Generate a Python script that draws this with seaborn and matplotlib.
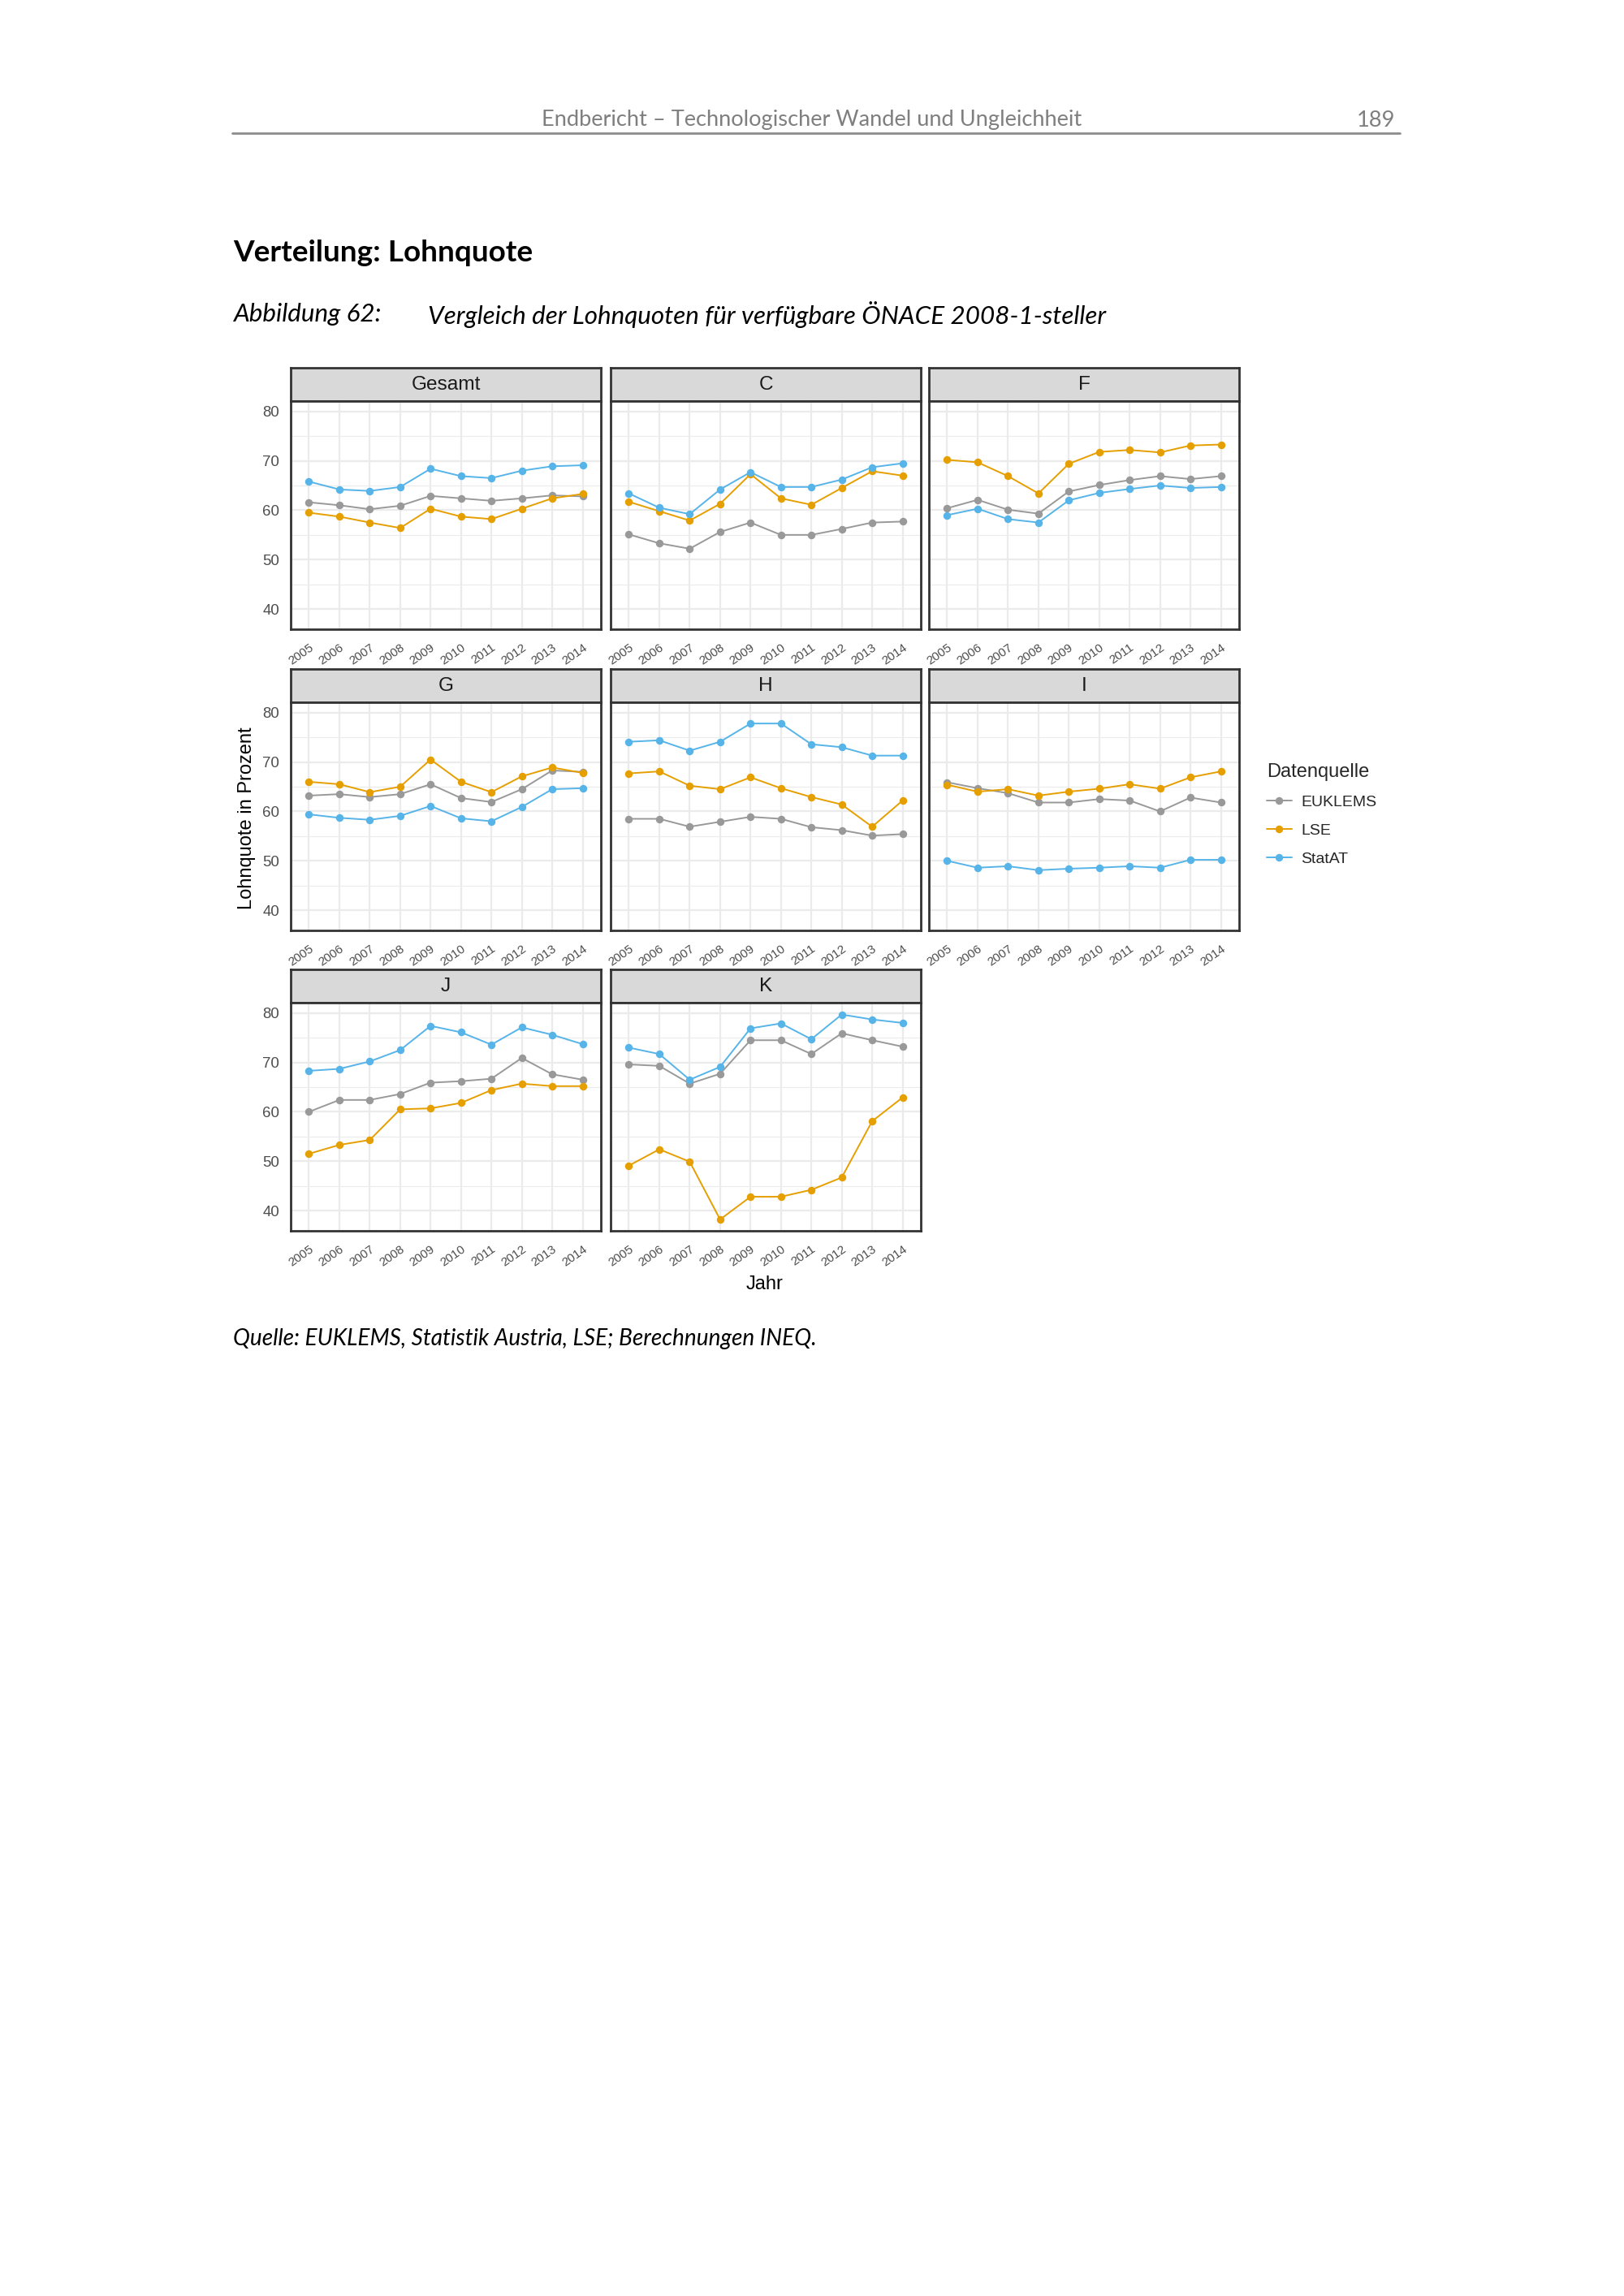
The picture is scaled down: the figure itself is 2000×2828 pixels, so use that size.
"""Lohnquote comparison page: 8 small line panels (ÖNACE 1-steller) on an A4 page."""

import matplotlib
matplotlib.use("Agg")
import matplotlib.pyplot as plt
from matplotlib.lines import Line2D
import numpy as np
import pandas as pd
import seaborn as sns

YEARS = list(range(2005, 2015))
PANELS = ["Gesamt", "C", "F", "G", "H", "I", "J", "K"]
SOURCES = ["EUKLEMS", "LSE", "StatAT"]
COLORS = {"EUKLEMS": "#999999", "LSE": "#E69F00", "StatAT": "#56B4E9"}

# values, 2005..2014
gesamt_euklems = [61.6, 61.0, 60.2, 60.9, 62.9, 62.4, 61.9, 62.4, 63.0, 62.8]
gesamt_lse = [59.5, 58.7, 57.5, 56.4, 60.3, 58.7, 58.2, 60.3, 62.4, 63.3]
gesamt_statat = [65.8, 64.2, 63.9, 64.7, 68.4, 66.9, 66.5, 68.0, 68.9, 69.1]

c_euklems = [55.1, 53.3, 52.2, 55.6, 57.5, 55.0, 55.0, 56.2, 57.5, 57.7]
c_lse = [61.7, 59.8, 57.9, 61.3, 67.3, 62.4, 61.1, 64.5, 67.9, 67.0]
c_statat = [63.4, 60.5, 59.2, 64.2, 67.7, 64.7, 64.7, 66.2, 68.7, 69.5]

f_euklems = [60.4, 62.1, 60.1, 59.3, 63.8, 65.1, 66.1, 66.9, 66.3, 66.9]
f_lse = [70.2, 69.7, 66.9, 63.4, 69.4, 71.8, 72.2, 71.7, 73.1, 73.3]
f_statat = [59.0, 60.3, 58.2, 57.5, 62.0, 63.5, 64.3, 65.0, 64.5, 64.7]

g_euklems = [63.2, 63.5, 62.9, 63.5, 65.5, 62.7, 61.9, 64.5, 68.3, 68.0]
g_lse = [66.0, 65.5, 63.9, 65.0, 70.5, 66.0, 63.9, 67.1, 68.9, 67.8]
g_statat = [59.4, 58.7, 58.3, 59.1, 61.1, 58.6, 58.0, 60.9, 64.5, 64.7]

h_euklems = [58.5, 58.5, 56.9, 57.9, 58.9, 58.5, 56.8, 56.2, 55.1, 55.4]
h_lse = [67.7, 68.1, 65.2, 64.5, 66.9, 64.7, 62.9, 61.4, 56.9, 62.2]
h_statat = [74.1, 74.4, 72.3, 74.1, 77.8, 77.8, 73.6, 73.0, 71.3, 71.3]

i_euklems = [65.9, 64.7, 63.7, 61.8, 61.8, 62.5, 62.2, 60.0, 62.8, 61.8]
i_lse = [65.4, 64.0, 64.5, 63.2, 64.0, 64.6, 65.5, 64.6, 66.9, 68.1]
i_statat = [50.0, 48.6, 48.9, 48.1, 48.4, 48.6, 48.9, 48.6, 50.2, 50.2]

j_euklems = [60.0, 62.4, 62.4, 63.6, 65.9, 66.2, 66.7, 70.9, 67.6, 66.5]
j_lse = [51.5, 53.3, 54.3, 60.5, 60.7, 61.8, 64.4, 65.7, 65.2, 65.2]
j_statat = [68.3, 68.7, 70.2, 72.5, 77.4, 76.1, 73.6, 77.1, 75.6, 73.7]

k_euklems = [69.6, 69.3, 65.7, 67.7, 74.5, 74.5, 71.7, 75.9, 74.5, 73.2]
k_lse = [49.1, 52.4, 49.9, 38.2, 42.8, 42.8, 44.2, 46.7, 58.1, 62.9]
k_statat = [73.0, 71.7, 66.5, 69.1, 76.9, 77.9, 74.7, 79.7, 78.7, 78.0]

SERIES = {
    "Gesamt": (gesamt_euklems, gesamt_lse, gesamt_statat),
    "C": (c_euklems, c_lse, c_statat),
    "F": (f_euklems, f_lse, f_statat),
    "G": (g_euklems, g_lse, g_statat),
    "H": (h_euklems, h_lse, h_statat),
    "I": (i_euklems, i_lse, i_statat),
    "J": (j_euklems, j_lse, j_statat),
    "K": (k_euklems, k_lse, k_statat),
}

rows = []
for panel, values in SERIES.items():
    for source, vals in zip(SOURCES, values):
        for year, v in zip(YEARS, vals):
            rows.append({"Panel": panel, "Quelle": source, "Jahr": year, "Wert": v})
df = pd.DataFrame(rows)

# page geometry in pixels (2000 x 2828 page)
PW, PH = 2000, 2828
COL_LEFT = [358, 752, 1144]
ROW_TOP = [453, 824, 1194]
PANEL_W, STRIP_H, PANEL_H = 382, 41, 281

sns.set_theme(style="white")
plt.rcParams["font.family"] = ["Liberation Sans", "DejaVu Sans"]

fig = plt.figure(figsize=(PW / 200, PH / 200), dpi=200)
fig.patch.set_facecolor("white")


def fig_box(x, y, w, h):
    return [x / PW, 1 - (y + h) / PH, w / PW, h / PH]


BORDER = "#333333"
for i, panel in enumerate(PANELS):
    r, c = divmod(i, 3)
    left, top = COL_LEFT[c], ROW_TOP[r]

    strip = fig.add_axes(fig_box(left, top, PANEL_W, STRIP_H))
    strip.set_facecolor("#D9D9D9")
    strip.set_xticks([])
    strip.set_yticks([])
    for sp in strip.spines.values():
        sp.set_color(BORDER)
        sp.set_linewidth(1.0)
    strip.text(0.5, 0.48, panel, ha="center", va="center", fontsize=8.8,
               color="#1A1A1A", transform=strip.transAxes)

    ax = fig.add_axes(fig_box(left, top + STRIP_H, PANEL_W, PANEL_H))
    sub = df[df["Panel"] == panel]
    sns.lineplot(data=sub, x="Jahr", y="Wert", hue="Quelle", hue_order=SOURCES,
                 palette=COLORS, marker="o", markersize=3.4, markeredgewidth=0,
                 linewidth=0.7, legend=False, ax=ax, zorder=3)

    ax.set_xlim(2004.4, 2014.6)
    ax.set_ylim(35.9, 82.1)
    ax.set_xticks(YEARS)
    ax.set_xticklabels([str(y) for y in YEARS], rotation=35, ha="right",
                       rotation_mode="anchor", fontsize=5.5, color="#4D4D4D")
    ax.set_yticks([40, 50, 60, 70, 80])
    ax.set_yticks([45, 55, 65, 75], minor=True)
    ax.grid(which="major", color="#EBEBEB", linewidth=0.8)
    ax.grid(which="minor", axis="y", color="#EBEBEB", linewidth=0.4)
    ax.set_axisbelow(True)
    ax.tick_params(axis="x", length=3, width=0.6, color=BORDER, pad=2.5)
    ax.tick_params(axis="y", which="major", length=3, width=0.6, color=BORDER,
                   pad=2, labelsize=6.7, labelcolor="#4D4D4D")
    ax.tick_params(axis="y", which="minor", length=0)
    if c != 0:
        ax.tick_params(axis="y", which="major", length=0, labelleft=False)
    ax.set_xlabel("")
    ax.set_ylabel("")
    for sp in ax.spines.values():
        sp.set_color(BORDER)
        sp.set_linewidth(1.0)

# axis titles
fig.text(304 / PW, 1 - 1008 / PH, "Lohnquote in Prozent", rotation=90,
         ha="center", va="center", fontsize=8.5, color="black")
fig.text(942 / PW, 1 - 1582 / PH, "Jahr", ha="center", va="center",
         fontsize=8.5, color="black")

# legend
handles = [Line2D([0], [0], color=COLORS[s], marker="o", markersize=3.4,
                  markeredgewidth=0, linewidth=0.7) for s in SOURCES]
fig.legend(handles, SOURCES, title="Datenquelle", loc="upper left",
           bbox_to_anchor=(1552 / PW, 1 - 932 / PH), frameon=False,
           fontsize=7, title_fontsize=8.5, handlelength=1.6,
           handletextpad=0.6, labelspacing=0.9, alignment="left",
           borderaxespad=0)

# page decoration
PAGE_FONT = ["Lato", "DejaVu Sans"]
fig.text(1000 / PW, 1 - 148 / PH,
         "Endbericht \u2013 Technologischer Wandel und Ungleichheit",
         ha="center", va="center", fontsize=9.8, color="#7F7F7F", family=PAGE_FONT)
fig.text(1718 / PW, 1 - 148 / PH, "189", ha="right", va="center",
         fontsize=9.8, color="#7F7F7F", family=PAGE_FONT)
fig.add_artist(Line2D([286 / PW, 1724 / PW], [1 - 164 / PH, 1 - 164 / PH],
                      color="#8C8C8C", linewidth=1.0))

fig.text(287 / PW, 1 - 312 / PH, "Verteilung: Lohnquote", ha="left",
         va="center", fontsize=13.3, fontweight="bold", color="black",
         family=PAGE_FONT)
fig.text(287 / PW, 1 - 387 / PH, "Abbildung 62:", ha="left", va="center",
         fontsize=11.3, style="italic", color="black", family=PAGE_FONT)
fig.text(527 / PW, 1 - 387 / PH,
         "Vergleich der Lohnquoten f\u00fcr verf\u00fcgbare \u00d6NACE 2008-1-steller",
         ha="left", va="center", fontsize=11.3, style="italic", color="black",
         family=PAGE_FONT)
fig.text(287 / PW, 1 - 1649 / PH,
         "Quelle: EUKLEMS, Statistik Austria, LSE; Berechnungen INEQ.",
         ha="left", va="center", fontsize=10.1, style="italic", color="black",
         family=PAGE_FONT)

plt.savefig("out.png", dpi=200)
plt.close()
